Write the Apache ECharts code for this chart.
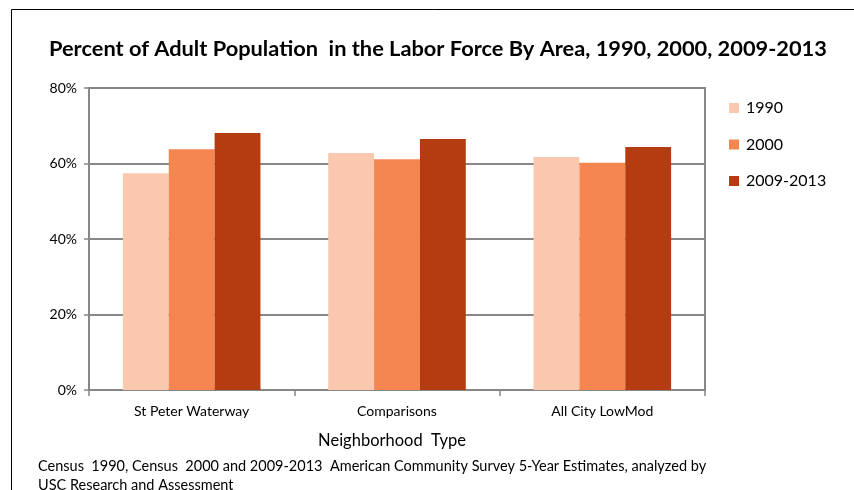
<!DOCTYPE html>
<html><head><meta charset="utf-8">
<script src="https://cdn.jsdelivr.net/npm/echarts@6/dist/echarts.min.js"></script>
<style>html,body{margin:0;padding:0;background:#fff}#c{width:854px;height:490px}</style>
</head><body><div id="c"></div>
<script>
const categories = ['St Peter Waterway', 'Comparisons', 'All City LowMod'];
const seriesNames = ['1990', '2000', '2009-2013'];
const values1990 = [57.4, 62.8, 61.7];
const values2000 = [63.8, 61.1, 60.2];
const values2009 = [68.1, 66.5, 64.4];
const yTicks = [0, 20, 40, 60, 80];
const titleText = 'Percent of Adult Population  in the Labor Force By Area, 1990, 2000, 2009-2013';
const xAxisName = 'Neighborhood  Type';
const footnote = 'Census  1990, Census  2000 and 2009-2013  American Community Survey 5-Year Estimates, analyzed by\nUSC Research and Assessment';

const colors = ['#F9C8AE', '#F58651', '#B53B10'];
const FONT = 'Lato';
const chart = echarts.init(document.getElementById('c'));
const allSeries = [values1990, values2000, values2009];
chart.setOption({
  animation: false,
  color: colors,
  title: {
    text: titleText, left: 44, top: 33,
    textStyle: { fontFamily: FONT, fontWeight: 'bold', fontSize: 21.8, color: '#000' }
  },
  legend: {
    orient: 'vertical', left: 724, top: 95, itemGap: 20.5,
    itemWidth: 10, itemHeight: 10, icon: 'rect',
    textStyle: { fontFamily: FONT, fontSize: 16, color: '#000', padding: [0, 0, 0, 2] },
    data: seriesNames
  },
  grid: {
    left: 89, right: 149, top: 88, bottom: 100,
    show: true, borderColor: '#878787', borderWidth: 2, backgroundColor: 'transparent'
  },
  xAxis: {
    type: 'category', data: categories,
    name: xAxisName, nameLocation: 'middle', nameGap: 42,
    nameTextStyle: { fontFamily: FONT, fontSize: 16.5, color: '#000', padding: [0, 10, 0, 0] },
    axisLine: { lineStyle: { color: '#878787', width: 2 } },
    axisTick: { show: true, length: 6, lineStyle: { color: '#878787', width: 1.5 } },
    axisLabel: { fontFamily: FONT, fontSize: 14, color: '#000', margin: 14 }
  },
  yAxis: {
    type: 'value', min: yTicks[0], max: yTicks[yTicks.length - 1], interval: 20,
    axisLine: { show: true, lineStyle: { color: '#878787', width: 2 } },
    axisTick: { show: true, length: 5, lineStyle: { color: '#878787', width: 1.5 } },
    splitLine: { lineStyle: { color: '#878787', width: 2 } },
    axisLabel: { fontFamily: FONT, fontSize: 14, color: '#000', margin: 12, formatter: '{value}%' }
  },
  series: seriesNames.map((n, i) => ({
    name: n, type: 'bar', data: allSeries[i],
    barGap: '0%', barCategoryGap: '33%',
    itemStyle: { color: colors[i] }
  })),
  graphic: [
    { type: 'rect', left: 9, top: 7, shape: { width: 1000, height: 1000 }, silent: true,
      style: { fill: 'none', stroke: '#000', lineWidth: 1 }, z: -1 },
    { type: 'text', left: 38, top: 457,
      style: { text: footnote, fontFamily: FONT, fontSize: 14.5, fill: '#000', lineHeight: 19 } }
  ]
});
</script></body></html>
